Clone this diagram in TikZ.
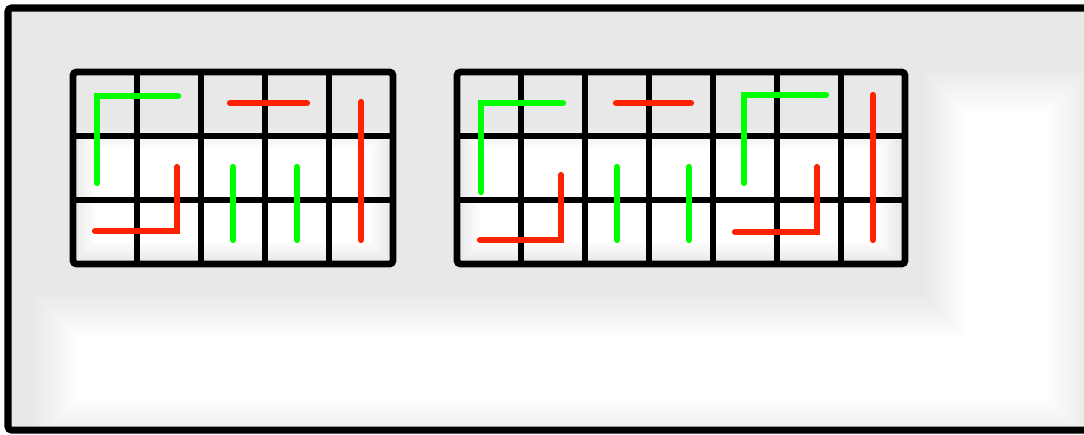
\documentclass[tikz,border=0pt]{standalone}
\usepackage{xcolor}
\usepackage{tikz}

\definecolor{tracered}{HTML}{FF2200}
\definecolor{tracegreen}{HTML}{00FF00}

\begin{document}
\begin{tikzpicture}[
    x=0.02cm, y=-0.02cm,
    frame/.style={line width=4pt, draw=black, rounded corners=2pt},
    gridline/.style={line width=3.9pt, draw=black},
    gridbox/.style={gridline, rounded corners=2pt},
    hot/.style={line width=3.6pt, line cap=round, draw=tracered},
    cold/.style={line width=3.6pt, line cap=round, draw=tracegreen}
]

\useasboundingbox (0,0) rectangle (1084,434);
\clip (0,0) rectangle (1084,434);

% soft grey background with lighter patches
\fill[black!9] (8,8) rectangle (1110,430);
\foreach \s [count=\k, evaluate=\k as \op using 1/(12-\k)] in {0,4,...,40}
  \fill[white, opacity=\op]
    (35+\s,295+\s) rectangle (1090-\s,440-\s)
    (925+\s,70+\s) rectangle (1090-\s,440-\s);
\foreach \s [count=\k, evaluate=\k as \op using 1/(7-\k)] in {0,4,...,20}
  \fill[white, opacity=\op]
    (75+\s,128+\s) rectangle (390-\s,262-\s)
    (460+\s,128+\s) rectangle (900-\s,262-\s);

% left board, 5 x 3
\begin{scope}[shift={(73,72)}]
  \foreach \i in {1,...,4}
    \draw[gridline] (64*\i,0) -- (64*\i,192);
  \foreach \j in {1,2}
    \draw[gridline] (0,64*\j) -- (320,64*\j);
  \draw[gridbox] (0,0) rectangle (320,192);
\end{scope}

% right board, 7 x 3
\begin{scope}[shift={(457,72)}]
  \foreach \i in {1,...,6}
    \draw[gridline] (64*\i,0) -- (64*\i,192);
  \foreach \j in {1,2}
    \draw[gridline] (0,64*\j) -- (448,64*\j);
  \draw[gridbox] (0,0) rectangle (448,192);
\end{scope}

% traces on the left board
\draw[cold] (97,183) -- (97,96) -- (178,96);
\draw[hot] (230,103) -- (307,103);
\draw[hot] (95,231) -- (177,231) -- (177,167);
\draw[cold] (233,167) -- (233,240);
\draw[cold] (297,167) -- (297,240);
\draw[hot] (361,102) -- (361,240);

% traces on the right board
\draw[cold] (481,192) -- (481,103) -- (563,103);
\draw[hot] (616,103) -- (691,103);
\draw[hot] (480,240) -- (561,240) -- (561,175);
\draw[cold] (617,167) -- (617,240);
\draw[cold] (689,167) -- (689,240);
\draw[cold] (744,183) -- (744,95) -- (826,95);
\draw[hot] (735,232) -- (817,232) -- (817,167);
\draw[hot] (873,95) -- (873,240);

% outer frame
\draw[frame] (8,8) rectangle (1110,430);

\end{tikzpicture}
\end{document}
